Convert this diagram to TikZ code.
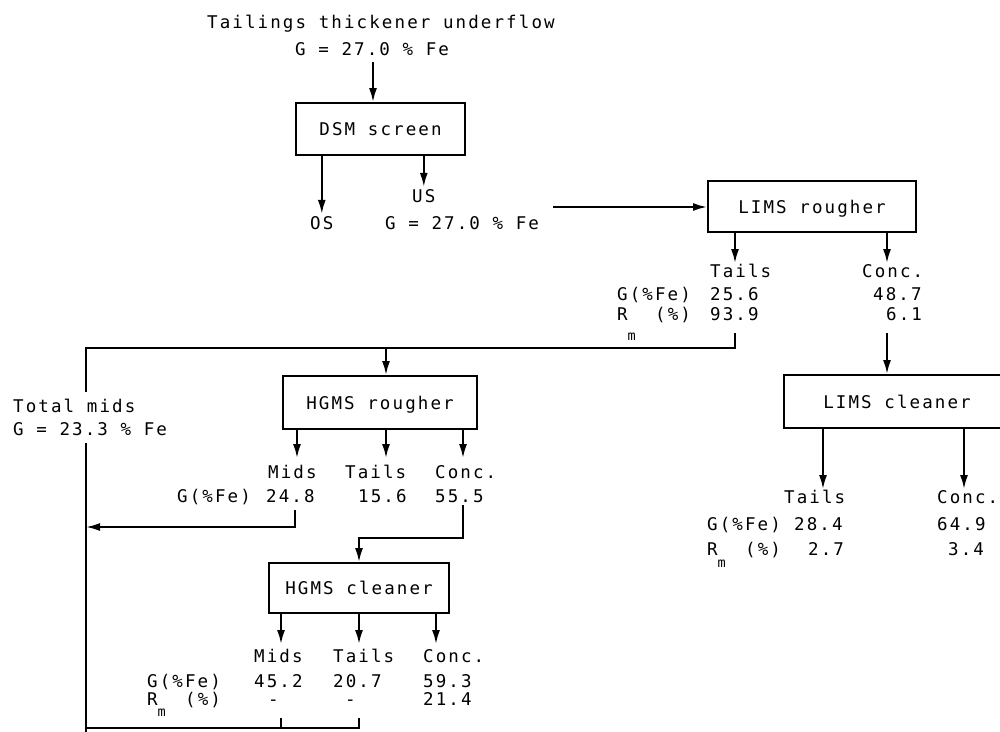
\documentclass[tikz,border=0pt]{standalone}
\usepackage{fontspec}
\usetikzlibrary{arrows.meta}
\newfontfamily\dm[LetterSpace=12]{DejaVu Sans Mono}
\newcommand{\dmf}{\dm\fontsize{17.5}{19}\selectfont}
\newcommand{\Rsub}[1]{R\rlap{\raisebox{-#1}{\fontsize{13.5}{14}\selectfont m}}}
\begin{document}
\begin{tikzpicture}[x=1pt,y=-1pt,
  txt/.style={inner sep=0pt, anchor=base west, font=\dmf},
  box/.style={draw, line width=2pt, inner sep=0pt, font=\dmf, text depth=0pt},
  ln/.style={line width=2pt},
  arr/.style={line width=2pt, -{Latex[length=14pt,width=8pt]}}]
\useasboundingbox (0,0) rectangle (1000,731);
\clip (0,0) rectangle (1000,731);
% ---------- DSM screen
\node[txt] (feed1) at (207,28) {Tailings thickener underflow};
\node[txt] (feed2) at (295,55) {G = 27.0 \% Fe};
\node[box, minimum width=169pt, minimum height=52pt] (dsm) at (380.5,129) {DSM screen};
\coordinate (c0) at (373,62);
\draw[arr] (c0) -- (c0 |- dsm.north);
\node[txt] (os) at (310,229) {OS};
\node[txt] (us) at (412,202) {US};
\node[txt] (usg) at (385,229) {G = 27.0 \% Fe};
\draw[arr] (dsm.south -| os.north) -- ([yshift=2pt]os.north);
\draw[arr] (dsm.south -| us.north) -- ([yshift=2pt]us.north);
% ---------- LIMS rougher
\node[box, minimum width=208pt, minimum height=51pt] (limsr) at (812,206.5) {LIMS rougher};
\coordinate (usf) at (553,207);
\draw[arr] (usf) -- (usf -| limsr.west);
\draw[arr] ([xshift=-77pt]limsr.south) -- ++(0,30);
\draw[arr] ([xshift=75pt]limsr.south) -- ++(0,30);
\node[txt] (rt) at (710,277) {Tails};
\node[txt] (rc) at (862,277) {Conc.};
\node[txt] (rg) at (617,300) {G(\%Fe)};
\node[txt] (rg1) at (710,300) {25.6};
\node[txt] (rg2) at (873,300) {48.7};
\node[txt] (rr) at (617,320) {\Rsub{20pt}};
\node[txt] (rrp) at (655,320) {(\%)};
\node[txt] (rr1) at (710,320) {93.9};
\node[txt] (rr2) at (886,320) {6.1};
% ---------- tails loop and total mids line
\coordinate (j1) at (735,333);
\coordinate (j2) at (86,348);
\coordinate (j3) at (86,392);
\coordinate (j4) at (86,443);
\coordinate (j5) at (86,735);
\coordinate (j6) at (386,348);
\draw[ln] (j1) |- (j2) -- (j3);
\draw[ln] (j4) -- (j5);
\node[txt] (tm1) at (13,412) {Total mids};
\node[txt] (tm2) at (13,435) {G = 23.3 \% Fe};
% ---------- HGMS rougher
\node[box, minimum width=194pt, minimum height=53pt] (hgmsr) at (380,402.5) {HGMS rougher};
\draw[arr] (j6) -- (j6 |- hgmsr.north);
\draw[arr] ([xshift=-83pt]hgmsr.south) -- ++(0,28);
\draw[arr] ([xshift=6pt]hgmsr.south) -- ++(0,28);
\draw[arr] ([xshift=83pt]hgmsr.south) -- ++(0,28);
\node[txt] (hm) at (268,478) {Mids};
\node[txt] (ht) at (345,478) {Tails};
\node[txt] (hc) at (435,478) {Conc.};
\node[txt] (hg) at (177,502) {G(\%Fe)};
\node[txt] (hg1) at (266,502) {24.8};
\node[txt] (hg2) at (358,502) {15.6};
\node[txt] (hg3) at (435,502) {55.5};
\coordinate (m1) at (295,510);
\coordinate (m2) at (86,527);
\draw[arr] (m1) |- (m2);
% ---------- HGMS cleaner
\node[box, minimum width=180pt, minimum height=50pt] (hgmsc) at (359,588) {HGMS cleaner};
\coordinate (k1) at (463,505);
\coordinate (k2) at (359,538);
\draw[arr] (k1) |- (k2) -- (k2 |- hgmsc.north);
\draw[arr] ([xshift=-78pt]hgmsc.south) -- ++(0,30);
\draw[arr] (hgmsc.south) -- ++(0,30);
\draw[arr] ([xshift=77pt]hgmsc.south) -- ++(0,30);
\node[txt] (cm) at (254,662) {Mids};
\node[txt] (ct) at (333,662) {Tails};
\node[txt] (cc) at (423,662) {Conc.};
\node[txt] (cg) at (147,687) {G(\%Fe)};
\node[txt] (cg1) at (254,687) {45.2};
\node[txt] (cg2) at (333,687) {20.7};
\node[txt] (cg3) at (423,687) {59.3};
\node[txt] (cr) at (147,705) {\Rsub{11pt}};
\node[txt] (crp) at (185,705) {(\%)};
\node[txt] (cr1) at (268,705) {-};
\node[txt] (cr2) at (345,705) {-};
\node[txt] (cr3) at (423,705) {21.4};
\coordinate (b1) at (281,718);
\coordinate (b2) at (359,718);
\coordinate (b3) at (86,728);
\draw[ln] (b1) -- (b1 |- b3);
\draw[ln] (b2) |- (b3);
% ---------- LIMS cleaner
\node[box, minimum width=226pt, minimum height=53pt] (limsc) at (897,401.5) {LIMS cleaner};
\coordinate (c6) at (887,333);
\draw[arr] (c6) -- (c6 |- limsc.north);
\draw[arr] ([xshift=-74pt]limsc.south) -- ++(0,60);
\draw[arr] ([xshift=67pt]limsc.south) -- ++(0,60);
\node[txt] (lt) at (784,503) {Tails};
\node[txt] (lc) at (937,503) {Conc.};
\node[txt] (lg) at (707,530) {G(\%Fe)};
\node[txt] (lg1) at (794,530) {28.4};
\node[txt] (lg2) at (937,530) {64.9};
\node[txt] (lr) at (707,555) {\Rsub{12pt}};
\node[txt] (lrp) at (745,555) {(\%)};
\node[txt] (lr1) at (808,555) {2.7};
\node[txt] (lr2) at (948,555) {3.4};
\end{tikzpicture}
\end{document}
